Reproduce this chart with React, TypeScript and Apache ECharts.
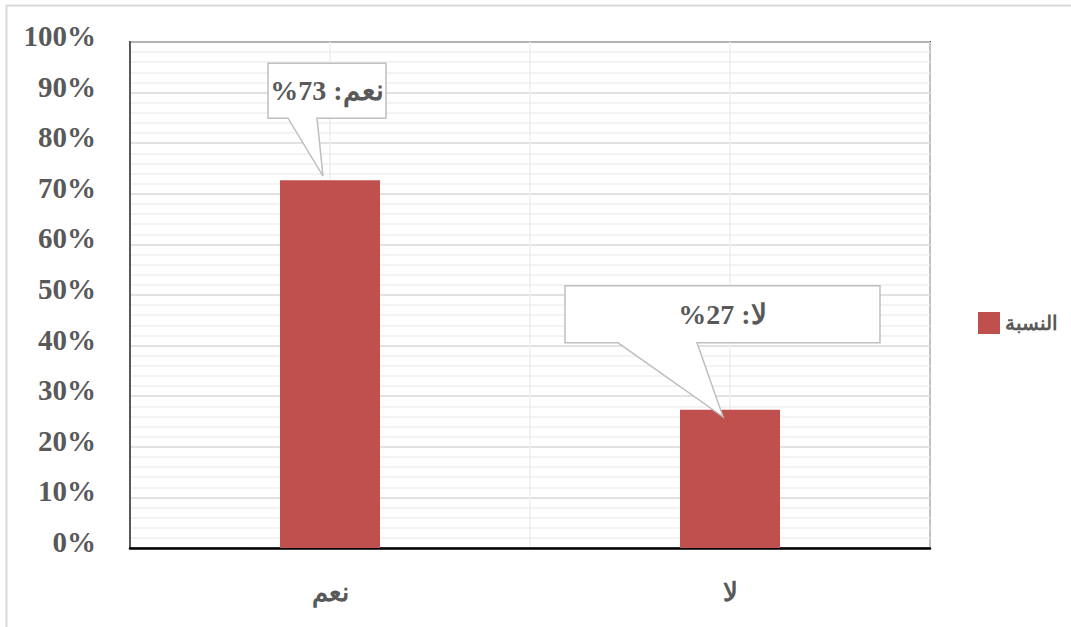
import React, { useEffect, useRef } from "react";
import * as echarts from "echarts";

const categories = ["نعم", "لا"];
const seriesName = "النسبة";
const percentValues = [72.7, 27.3];
const yTicks = [0, 10, 20, 30, 40, 50, 60, 70, 80, 90, 100];

// callout shapes relative to the pointer tip (styling only)
const calloutLayout = [
  { tipDx: -7, tipDy: -4, left: -55, right: 63, top: -113, bottom: -58, baseL: -35, baseR: -6 },
  { tipDx: -7, tipDy: 7, left: -158, right: 157, top: -131, bottom: -74, baseL: -105, baseR: -26 },
];

const SERIF = '"Liberation Serif", "Times New Roman", serif';
const TEXT = "#595959";

export default function App() {
  const ref = useRef<HTMLDivElement>(null);
  useEffect(() => {
    if (!ref.current) return;
    const chart = echarts.init(ref.current, null, { renderer: "svg" });
    const option: any = {
      animation: false,
      backgroundColor: "#ffffff",
      graphic: [
        {
          type: "rect",
          shape: { x: 6.5, y: 5.5, width: 1200, height: 800 },
          style: { fill: "none", stroke: "#d9d9d9", lineWidth: 2 },
          silent: true,
        },
      ],
      grid: {
        left: 130,
        right: 141,
        top: 42,
        bottom: 79,
        show: true,
        borderColor: "#404040",
        borderWidth: 2,
        backgroundColor: "transparent",
      },
      legend: {
        data: [seriesName],
        left: 973,
        top: 307,
        itemWidth: 22,
        itemHeight: 22,
        icon: "rect",
        itemGap: 6,
        textStyle: { fontFamily: SERIF, fontWeight: "bold", fontSize: 20, color: TEXT },
      },
      xAxis: [
        {
          type: "category",
          data: categories,
          axisLine: { show: true, lineStyle: { color: "#000000", width: 2.5 } },
          axisTick: { show: false },
          splitLine: { show: false },
          axisLabel: {
            margin: 31,
            fontFamily: SERIF,
            fontWeight: "bold",
            fontSize: 26,
            color: TEXT,
          },
        },
        {
          type: "value",
          min: 0,
          max: 4,
          interval: 1,
          position: "bottom",
          axisLine: { show: false },
          axisTick: { show: false },
          axisLabel: { show: false },
          splitLine: { show: true, lineStyle: { color: "#eeeeee", width: 1.5 } },
        },
      ],
      yAxis: {
        type: "value",
        min: yTicks[0],
        max: yTicks[yTicks.length - 1],
        interval: 10,
        axisLine: { show: true, lineStyle: { color: "#595959", width: 2 } },
        axisTick: { show: false },
        axisLabel: {
          margin: 34,
          formatter: "{value}%",
          fontFamily: SERIF,
          fontWeight: "bold",
          fontSize: 29,
          color: TEXT,
          verticalAlign: "bottom",
          lineHeight: 12,
        },
        splitLine: { show: true, lineStyle: { color: "#d9d9d9", width: 1.5 } },
        minorTick: { show: false, splitNumber: 5 },
        minorSplitLine: { show: true, lineStyle: { color: "#efefef", width: 1.5 } },
      },
      series: [
        {
          name: seriesName,
          type: "bar",
          data: percentValues,
          barWidth: 100,
          itemStyle: { color: "#c0504d" },
          z: 2,
        },
        {
          name: "callouts",
          type: "custom",
          data: percentValues.map((v, i) => [i, v]),
          z: 5,
          renderItem: (params: any, api: any) => {
            const idx = params.dataIndex;
            const pt = api.coord([api.value(0), api.value(1)]);
            const L = calloutLayout[idx];
            const tx = pt[0] + L.tipDx;
            const ty = pt[1] + L.tipDy;
            const points = [
              [tx + L.left, ty + L.top],
              [tx + L.right, ty + L.top],
              [tx + L.right, ty + L.bottom],
              [tx + L.baseR, ty + L.bottom],
              [tx, ty],
              [tx + L.baseL, ty + L.bottom],
              [tx + L.left, ty + L.bottom],
            ];
            const v = percentValues[idx];
            const text = `%${Math.round(v)} :${categories[idx]}`;
            return {
              type: "group",
              children: [
                {
                  type: "polygon",
                  shape: { points },
                  style: { fill: "#ffffff", stroke: "#bfbfbf", lineWidth: 1.5 },
                },
                {
                  type: "text",
                  x: tx + (L.left + L.right) / 2,
                  y: ty + (L.top + L.bottom) / 2,
                  style: {
                    text,
                    align: "center",
                    verticalAlign: "middle",
                    fontFamily: SERIF,
                    fontWeight: "bold",
                    fontSize: 28,
                    fill: TEXT,
                  },
                },
              ],
            };
          },
        },
      ],
    };
    chart.setOption(option);
    return () => chart.dispose();
  }, []);
  return (
    <div
      ref={ref}
      style={{ position: "absolute", left: 0, top: 0, width: 1071, height: 627 }}
    />
  );
}
